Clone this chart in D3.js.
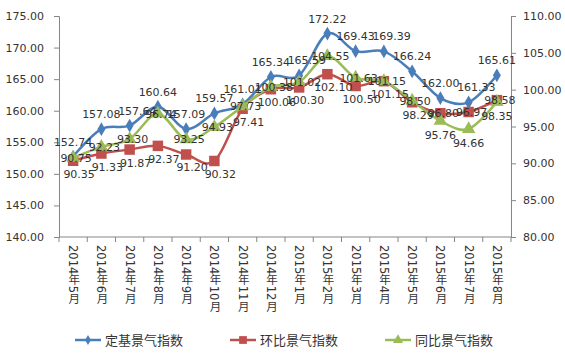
<!DOCTYPE html>
<html>
<head>
<meta charset="utf-8">
<script src="https://cdn.jsdelivr.net/npm/d3@7"></script>
<style>
  body { margin: 0; background: #fff; }
  text { font-family: "DejaVu Sans", "Noto Sans CJK SC", sans-serif; }
</style>
</head>
<body>
<div id="chart"></div>
<script>
// Monthly business climate indices, 2014-05 .. 2015-08
const months = ['2014年5月', '2014年6月', '2014年7月', '2014年8月', '2014年9月', '2014年10月',
    '2014年11月', '2014年12月', '2015年1月', '2015年2月', '2015年3月', '2015年4月',
    '2015年5月', '2015年6月', '2015年7月', '2015年8月'];

const baseIndex = [152.74, 157.08, 157.64, 160.64, 157.09, 159.57, 161.01, 165.34,
    165.59, 172.22, 169.43, 169.39, 166.24, 162.00, 161.33, 165.61];
const momIndex = [90.35, 91.33, 91.87, 92.37, 91.20, 90.32, 97.41, 100.06,
    100.30, 102.10, 100.50, 101.15, 98.29, 96.80, 96.97, 98.58];
const yoyIndex = [90.75, 92.23, 93.30, 96.74, 93.25, 94.93, 97.73, 100.38,
    101.02, 104.55, 101.63, 101.15, 98.50, 95.76, 94.66, 98.35];

const leftTicks = [140, 145, 150, 155, 160, 165, 170, 175];
const rightTicks = [80, 85, 90, 95, 100, 105, 110];
const seriesNames = ['定基景气指数', '环比景气指数', '同比景气指数'];

const width = 565, height = 354;
const plot = { left: 59, right: 511, top: 16, bottom: 237 };
const axisColor = '#868686';
const textColor = '#333';

const svg = d3.select('#chart').append('svg')
    .attr('width', width)
    .attr('height', height);

const x = d3.scaleBand().domain(months).range([plot.left, plot.right]);
const yLeft = d3.scaleLinear().domain([140, 175]).range([plot.bottom, plot.top]);
const yRight = d3.scaleLinear().domain([80, 110]).range([plot.bottom, plot.top]);
const cx = m => x(m) + x.bandwidth() / 2;

// Axes
const leftAxis = svg.append('g')
    .attr('transform', `translate(${plot.left},0)`)
    .call(d3.axisLeft(yLeft).tickValues(leftTicks).tickFormat(d3.format('.2f')).tickSize(5).tickPadding(10));
const rightAxis = svg.append('g')
    .attr('transform', `translate(${plot.right},0)`)
    .call(d3.axisRight(yRight).tickValues(rightTicks).tickFormat(d3.format('.2f')).tickSize(5).tickPadding(7));
[leftAxis, rightAxis].forEach(a => {
    a.select('.domain').attr('stroke', axisColor);
    a.selectAll('.tick line').attr('stroke', axisColor);
    a.selectAll('.tick text').attr('fill', textColor).attr('font-size', '11px');
});

// Category axis with ticks between bands
const bottom = svg.append('g');
bottom.append('line')
    .attr('x1', plot.left).attr('x2', plot.right)
    .attr('y1', plot.bottom).attr('y2', plot.bottom)
    .attr('stroke', axisColor);
bottom.selectAll('.btick')
    .data(months.concat(['end']))
    .enter().append('line')
    .attr('x1', (d, i) => i < months.length ? x(d) : plot.right)
    .attr('x2', (d, i) => i < months.length ? x(d) : plot.right)
    .attr('y1', plot.bottom).attr('y2', plot.bottom + 5)
    .attr('stroke', axisColor);
bottom.selectAll('.blabel')
    .data(months)
    .enter().append('text')
    .attr('x', d => cx(d))
    .attr('y', plot.bottom + 8)
    .style('writing-mode', 'vertical-rl')
    .style('text-orientation', 'mixed')
    .attr('fill', textColor)
    .attr('font-size', '11.5px')
    .text(d => d);

const series = [
    { name: seriesNames[0], values: baseIndex, y: yLeft, color: '#4A7EBB', marker: d3.symbolDiamond, size: 55 },
    { name: seriesNames[1], values: momIndex, y: yRight, color: '#C0504D', marker: d3.symbolSquare, size: 110 },
    { name: seriesNames[2], values: yoyIndex, y: yRight, color: '#9BBB59', marker: d3.symbolTriangle, size: 80 }
];

// label placement: blue above; red below / green centred, swapped where green dips under red
const labelOffset = (k, i) => {
    if (k === 0) return [0, -11];
    const greenLow = yoyIndex[i] < momIndex[i];
    if (k === 1) return greenLow ? [3, 4] : [6, 17];
    return greenLow ? [0, 18] : [3, 4];
};

// label positions; blue labels get pushed right when they sit level with the previous one
const labelPositions = (s, k) => {
    const out = [];
    s.values.forEach((d, i) => {
        const off = labelOffset(k, i);
        let lx = cx(months[i]) + off[0];
        const ly = s.y(d) + off[1];
        const prev = out[i - 1];
        if (k === 0 && prev && Math.abs(prev.y - ly) < 8) lx = Math.max(lx, prev.x + 36);
        out.push({ x: lx, y: ly, v: d });
    });
    return out;
};

const line = s => d3.line()
    .x((d, i) => cx(months[i]))
    .y(d => s.y(d))
    .curve(d3.curveCatmullRom.alpha(0));

series.forEach(s => {
    const g = svg.append('g');
    g.append('path')
        .datum(s.values)
        .attr('d', line(s))
        .attr('fill', 'none')
        .attr('stroke', s.color)
        .attr('stroke-width', 2.5);
    g.selectAll('.pt')
        .data(s.values)
        .enter().append('path')
        .attr('d', d3.symbol().type(s.marker).size(s.size))
        .attr('transform', (d, i) => `translate(${cx(months[i])},${s.y(d)})`)
        .attr('fill', s.color);
});

// Data labels on top of everything
series.forEach((s, k) => {
    svg.append('g').selectAll('.lbl')
        .data(labelPositions(s, k))
        .enter().append('text')
        .attr('x', d => d.x)
        .attr('y', d => d.y)
        .attr('text-anchor', 'middle')
        .attr('fill', textColor)
        .attr('font-size', '11px')
        .text(d => d.v.toFixed(2));
});

// Legend
const legendX = [75, 230, 385];
const legend = svg.append('g');
series.forEach((s, i) => {
    const item = legend.append('g').attr('transform', `translate(${legendX[i]},340)`);
    item.append('line')
        .attr('x1', 0).attr('x2', 26)
        .attr('stroke', s.color)
        .attr('stroke-width', 2.5);
    item.append('path')
        .attr('d', d3.symbol().type(s.marker).size(s.size * 0.55))
        .attr('transform', 'translate(13,0)')
        .attr('fill', s.color);
    item.append('text')
        .attr('x', 30)
        .attr('dy', '0.35em')
        .attr('fill', textColor)
        .attr('font-size', '13px')
        .text(s.name);
});
</script>
</body>
</html>
